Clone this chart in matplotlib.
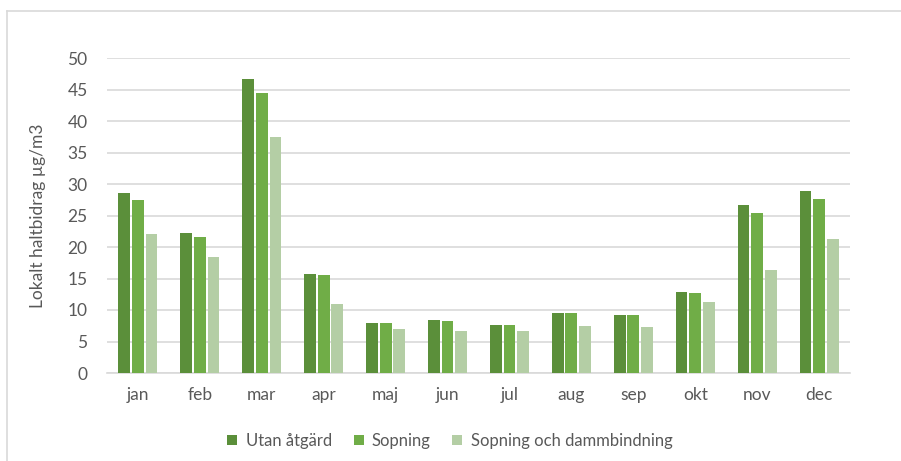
import matplotlib
matplotlib.use("Agg")
import matplotlib.pyplot as plt
import numpy as np

months = ["jan", "feb", "mar", "apr", "maj", "jun", "jul", "aug", "sep", "okt", "nov", "dec"]
utan = [28.5, 22.3, 46.6, 15.7, 7.9, 8.4, 7.6, 9.5, 9.2, 12.9, 26.6, 28.9]
sopning = [27.5, 21.6, 44.5, 15.5, 7.9, 8.3, 7.6, 9.5, 9.2, 12.75, 25.4, 27.6]
damm = [22.0, 18.4, 37.5, 10.9, 7.0, 6.7, 6.6, 7.5, 7.3, 11.2, 16.3, 21.2]
series_names = ["Utan åtgärd", "Sopning", "Sopning och dammbindning"]
colors = ["#5B8F3A", "#70AD47", "#B4CEA5"]
yticks = [0, 5, 10, 15, 20, 25, 30, 35, 40, 45, 50]

plt.rcParams['font.family'] = ['Lato', 'DejaVu Sans']
W, H = 901, 461
fig = plt.figure(figsize=(W/100, H/100), dpi=100)
ax = fig.add_axes([107/W, 1-373/H, (850-107)/W, (373-58)/H])

x = np.arange(len(months))
w = 0.19
off = 0.22
for i, (vals, name, c) in enumerate(zip([utan, sopning, damm], series_names, colors)):
    ax.bar(x + (i-1)*off, vals, width=w, color=c, label=name, zorder=3)

ax.set_xlim(-0.5, len(months)-0.5)
ax.set_ylim(0, 50)
ax.set_yticks(yticks)
ax.set_xticks(x)
ax.set_xticklabels(months)
ax.grid(axis='y', color='#D9D9D9', linewidth=1.2, zorder=0)
for s in ['top', 'right', 'left']:
    ax.spines[s].set_visible(False)
ax.spines['bottom'].set_color('#D9D9D9')
ax.spines['bottom'].set_linewidth(1.2)
ax.tick_params(axis='both', length=0, labelsize=12.5, colors='#595959', pad=10)
ax.tick_params(axis='y', pad=14)
ax.set_ylabel("Lokalt haltbidrag µg/m3", fontsize=12.5, color='#595959', labelpad=15)

leg = fig.legend(loc='center', bbox_to_anchor=(450/W, 1-441/H), ncol=3, frameon=False,
                 fontsize=12, handlelength=0.6, handleheight=0.6, columnspacing=1.3,
                 handletextpad=0.5)
for t in leg.get_texts():
    t.set_color('#595959')

# chart border lines (left and top)
fig.add_artist(plt.Line2D([7/W, 7/W], [0, 1-11/H], color='#D9D9D9', linewidth=1.2, transform=fig.transFigure))
fig.add_artist(plt.Line2D([7/W, 1], [1-11/H, 1-11/H], color='#D9D9D9', linewidth=1.2, transform=fig.transFigure))

fig.savefig("out.png", dpi=100)
